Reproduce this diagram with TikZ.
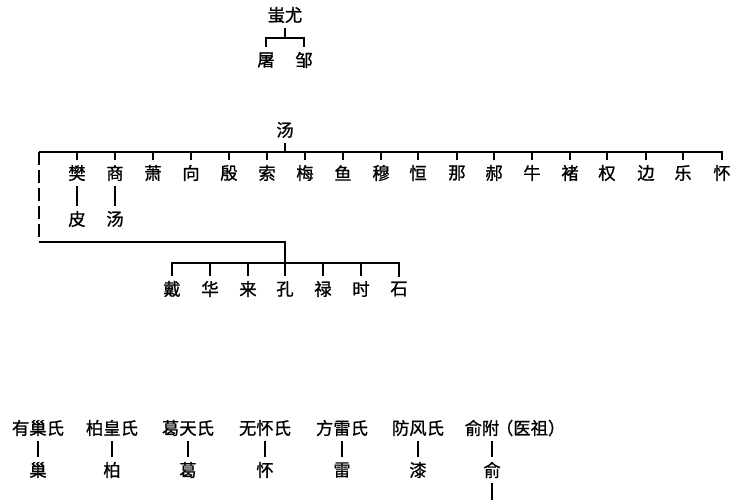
\documentclass[tikz,border=0pt]{standalone}
\usepackage{fontspec}
\newfontfamily\cjk[FakeBold=1]{Noto Sans CJK SC}
\begin{document}
\begin{tikzpicture}[x=0.75pt,y=-0.75pt,line width=1.5pt,
    kin/.style={font=\cjk\fontsize{13}{15}\selectfont,inner sep=3pt}]
  \useasboundingbox (0,0) rectangle (750,500);
  \begin{scope}[every node/.style={kin}]
    % 蚩尤
    \node (chiyou) at (285,15) {蚩尤};
    \node (tu) at (266,60) {屠};
    \node (zou) at (304,60) {邹};
    % 汤
    \node (tang) at (285,130) {汤};
    \node (fan) at (77,173) {樊};
    \node (shang) at (115,173) {商};
    \node (xiao) at (153,173) {萧};
    \node (xiang) at (191,173) {向};
    \node (yin) at (229,173) {殷};
    \node (suo) at (267,173) {索};
    \node (mei) at (305,173) {梅};
    \node (yu) at (343,173) {鱼};
    \node (mu) at (381,173) {穆};
    \node (heng) at (418,173) {恒};
    \node (na) at (457,173) {那};
    \node (hao) at (494,173) {郝};
    \node (niu) at (532,173) {牛};
    \node (chu) at (570,173) {褚};
    \node (quan) at (607,173) {权};
    \node (bian) at (646,173) {边};
    \node (le) at (683,173) {乐};
    \node (huai) at (722,173) {怀};
    \node (pi) at (77,219) {皮};
    \node (tang2) at (115,219) {汤};
    \node (dai) at (172,289) {戴};
    \node (hua) at (210,289) {华};
    \node (lai) at (248,289) {来};
    \node (kong) at (285,289) {孔};
    \node (lu) at (323,289) {禄};
    \node (shi) at (361,289) {时};
    \node (shi2) at (399,289) {石};
    % 氏
    \node (youchao) at (38,428) {有巢氏};
    \node (baihuang) at (112,428) {柏皇氏};
    \node (getian) at (188,428) {葛天氏};
    \node (wuhuai) at (265,428) {无怀氏};
    \node (fanglei) at (342,428) {方雷氏};
    \node (fangfeng) at (418,428) {防风氏};
    \node (yufu) at (482,428) {俞附};
    \node[right=-10pt] (yizu) at (yufu.east) {（医祖）};
    \node (chao) at (38,470) {巢};
    \node (bai) at (112,470) {柏};
    \node (ge) at (188,470) {葛};
    \node (huai2) at (265,470) {怀};
    \node (lei) at (342,470) {雷};
    \node (qi) at (418,470) {漆};
    \node (yu2) at (492,470) {俞};
  \end{scope}
  \coordinate (top) at (285,38);
  \coordinate (bus) at (285,152);
  \coordinate (busL) at (39,152);
  \coordinate (corner) at (39,242);
  \coordinate (bus2) at (285,263);
  \coordinate (end) at (492,500);
  \begin{scope}[every edge/.style={draw=black,line width=1.5pt}]
    \path (chiyou.south) edge (top);
    \draw (tu.north) |- (top) -| (zou.north);
    \path (tang.south) edge (bus);
    \draw (busL) -| (huai.north);
    \path (fan.north) edge (fan.north |- bus);
    \path (shang.north) edge (shang.north |- bus);
    \path (xiao.north) edge (xiao.north |- bus);
    \path (xiang.north) edge (xiang.north |- bus);
    \path (yin.north) edge (yin.north |- bus);
    \path (suo.north) edge (suo.north |- bus);
    \path (mei.north) edge (mei.north |- bus);
    \path (yu.north) edge (yu.north |- bus);
    \path (mu.north) edge (mu.north |- bus);
    \path (heng.north) edge (heng.north |- bus);
    \path (na.north) edge (na.north |- bus);
    \path (hao.north) edge (hao.north |- bus);
    \path (niu.north) edge (niu.north |- bus);
    \path (chu.north) edge (chu.north |- bus);
    \path (quan.north) edge (quan.north |- bus);
    \path (bian.north) edge (bian.north |- bus);
    \path (le.north) edge (le.north |- bus);
    \path (fan) edge (pi);
    \path (shang) edge (tang2);
    \draw[dash pattern=on 10pt off 3.5pt] (busL) -- (corner);
    \draw (corner) -| (kong.north);
    \draw (dai.north) |- (bus2) -| (shi2.north);
    \path (hua.north) edge (hua.north |- bus2);
    \path (lai.north) edge (lai.north |- bus2);
    \path (lu.north) edge (lu.north |- bus2);
    \path (shi.north) edge (shi.north |- bus2);
    \path (youchao) edge (chao);
    \path (baihuang) edge (bai);
    \path (getian) edge (ge);
    \path (wuhuai) edge (huai2);
    \path (fanglei) edge (lei);
    \path (fangfeng) edge (qi);
    \path (yu2.north) edge (yu2.north |- yufu.south);
    \path (yu2.south) edge (end);
  \end{scope}
\end{tikzpicture}
\end{document}
